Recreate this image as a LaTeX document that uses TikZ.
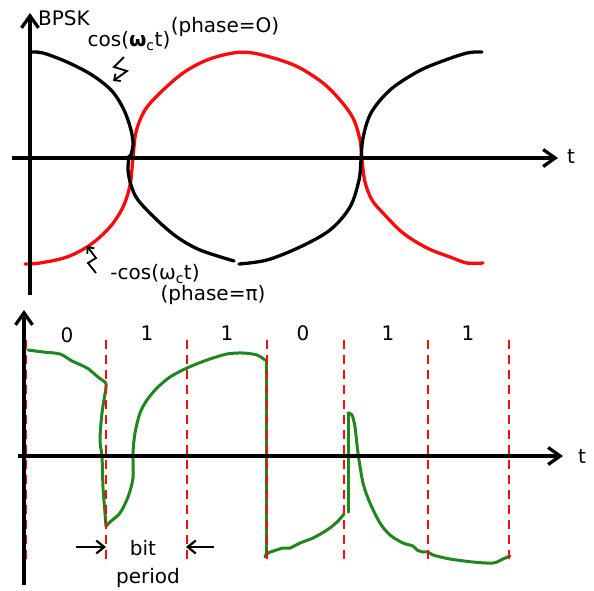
\documentclass[tikz,border=0pt]{standalone}
\usepackage{fontspec}
\setmainfont{DejaVu Sans}
\usetikzlibrary{arrows.meta}
\definecolor{sigred}{RGB}{250,10,10}
\definecolor{siggreen}{RGB}{30,135,30}
\begin{document}
\begin{tikzpicture}[x=1pt,y=-1pt,
  axis/.style={line width=3.3pt,-{Straight Barb[length=12pt,width=17pt]}},
  blackwave/.style={line width=3.3pt,black,line cap=round},
  redwave/.style={line width=3.3pt,sigred,line cap=round},
  greenwave/.style={line width=3pt,siggreen,line cap=round,line join=round},
  bitline/.style={line width=2.6pt,sigred,dash pattern=on 9pt off 6pt},
  lbl/.style={font=\fontsize{20}{24}\selectfont,inner sep=0pt},
  squig/.style={line width=1.8pt,-{Straight Barb[length=5pt,width=9pt]}},
  dimarrow/.style={line width=2.2pt,-{Straight Barb[length=8pt,width=13pt]}}]
\useasboundingbox (0,0) rectangle (594,590);
\fill[white] (0,0) rectangle (594,590);

% ---------------- top: BPSK carriers ----------------
\draw[redwave] plot[smooth,tension=0.55] coordinates {(25,264) (40,263) (67,257) (90,245) (110,227) (123,207) (130,185) (133,158) (136,132) (145,110) (160,93) (183,73) (207,60) (233,53) (253,53) (280,60) (300,68) (323,83) (340,100) (353,118) (360,140) (362,160) (365,182) (372,200) (383,213) (403,233) (427,248) (450,257) (467,263) (483,263)};
\draw[blackwave] plot[smooth,tension=0.55] coordinates {(30,52) (43,53) (67,62) (92,75) (112,91) (124,110) (131,130) (133,145) (130,158)};
\draw[blackwave] plot[smooth,tension=0.55] coordinates {(129,156) (128,170) (131,185) (138,200) (157,220) (177,237) (200,250) (234,261)};
\draw[blackwave] plot[smooth,tension=0.55] coordinates {(239,264) (267,260) (300,247) (330,230) (350,207) (359,180) (361,160) (363,138) (371,113) (390,90) (417,72) (440,62) (467,53) (482,52)};

\coordinate (tyb) at (30,295);
\coordinate (tyt) at (30,13);
\coordinate (txl) at (12,158);
\coordinate (txr) at (558,158);
\draw[axis] (tyb) -- (tyt);
\draw[axis] (txl) -- (txr);
\node[lbl] (tt) at (571,156) {t};
\node[lbl,anchor=west] (bpsk) at (38,18) {BPSK};
\node[lbl] (coslbl) at (129,41) {cos({\bfseries ω}\textsubscript{c}t)};
\node[lbl] (ph0) at (225,27) {(phase=O)};
\node[lbl] (mcoslbl) at (155,274) {-cos(ω\textsubscript{c}t)};
\node[lbl] (phpi) at (213,295) {(phase=π)};

\coordinate (sq1a) at (124,57);
\coordinate (sq1t) at (113,81);
\draw[squig] (sq1a) -- (114,67) -- (127,71) -- (sq1t);
\coordinate (sq2a) at (96,273);
\coordinate (sq2t) at (87,246);
\draw[squig] (sq2a) -- (88,263) -- (96,258) -- (sq2t);

% ---------------- bottom: BPSK waveform ----------------
\draw[greenwave] plot[smooth,tension=0.5] coordinates {(28,350) (43,352) (60,354) (72,361) (87,368) (98,377) (105,382)};
\draw[greenwave] plot[smooth,tension=0.5] coordinates {(105,382) (106,387) (102,413) (100,440) (102,457) (103,487) (105,513) (106,526)};
\draw[greenwave] plot[smooth,tension=0.5] coordinates {(106,526) (110,522) (120,513) (128,497) (133,478) (133,453) (135,433) (140,413) (147,400) (157,388) (170,377) (187,368) (207,360) (227,354) (243,353) (257,355) (265,360)};
\draw[greenwave] (266,360) -- (266,557);
\draw[greenwave] plot[smooth,tension=0.5] coordinates {(265,557) (268,553) (283,548) (290,548) (300,543) (313,538) (327,530) (337,522) (344,514)};
\draw[greenwave] (348,512) -- (348,413);
\draw[greenwave] plot[smooth,tension=0.5] coordinates {(348,413) (352,415) (355,427) (358,453) (363,483) (370,503) (380,523) (390,535) (403,543) (413,546) (417,550) (423,552) (428,552) (433,555) (450,559) (473,562) (493,563) (503,559) (510,556)};

\foreach \xx/\nm in {26/b0,106/b1,187/b2,267/b3,344/b4,428/b5,509/b6}{
  \coordinate (\nm t) at (\xx,340);
  \coordinate (\nm b) at (\xx,565);
  \draw[bitline] (\nm t) -- (\nm b);
}

\coordinate (byb) at (24,585);
\coordinate (byt) at (24,310);
\coordinate (bxl) at (18,456);
\coordinate (bxr) at (563,456);
\draw[axis] (byb) -- (byt);
\draw[axis] (bxl) -- (bxr);
\node[lbl] (bt) at (582,456) {t};

\node[lbl] (d0) at (67,335) {0};
\node[lbl] (d1) at (147,333) {1};
\node[lbl] (d2) at (227,333) {1};
\node[lbl] (d3) at (303,333) {0};
\node[lbl] (d4) at (388,333) {1};
\node[lbl] (d5) at (468,333) {1};

\node[lbl] (bit) at (143,548) {bit};
\node[lbl] (period) at (148,578) {period};
\coordinate (al) at (76,547);
\coordinate (alt) at (106,547);
\coordinate (ar) at (214,547);
\coordinate (art) at (186,547);
\draw[dimarrow] (al) -- (alt);
\draw[dimarrow] (ar) -- (art);
\end{tikzpicture}
\end{document}
